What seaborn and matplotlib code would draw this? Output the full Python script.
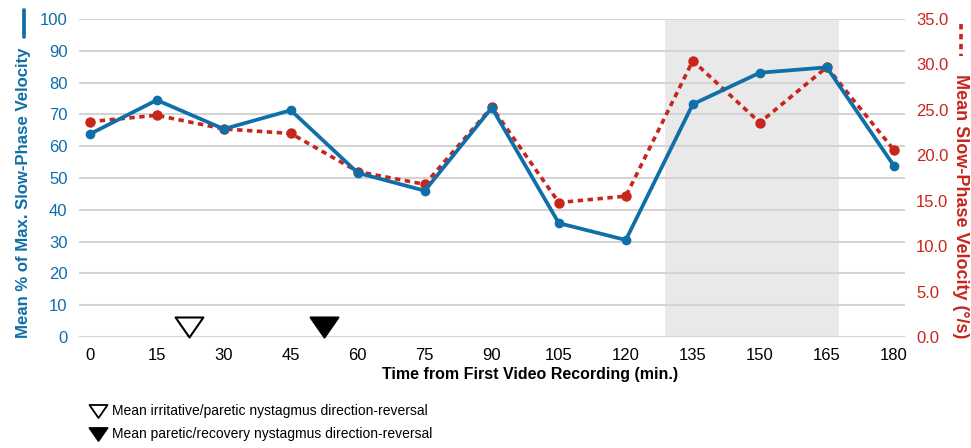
import matplotlib
matplotlib.use("Agg")
import matplotlib.pyplot as plt
from matplotlib.lines import Line2D
from matplotlib.path import Path
import seaborn as sns
import pandas as pd

# Recording times (minutes from first video recording)
times = [0, 15, 30, 45, 60, 75, 90, 105, 120, 135, 150, 165, 180]
# Mean % of maximum slow-phase velocity (left axis)
pct_max_spv = [63.8, 74.5, 65.4, 71.3, 51.6, 46.0, 72.1, 35.8, 30.5, 73.2, 83.1, 84.8, 53.9]
# Mean slow-phase velocity in deg/s (right axis)
mean_spv = [23.7, 24.4, 22.9, 22.4, 18.2, 16.8, 25.3, 14.8, 15.5, 30.4, 23.6, 29.7, 20.6]
# Mean direction-reversal times (minutes)
reversal_irritative_paretic = 22.2
reversal_paretic_recovery = 52.5
# Shaded interval (minutes)
shade_start, shade_end = 128.8, 167.7

left_ticks = list(range(0, 101, 10))
right_ticks = [0.0, 5.0, 10.0, 15.0, 20.0, 25.0, 30.0, 35.0]
x_ticks = list(range(0, 181, 15))

BLUE = "#0f6fa8"
RED = "#c8251b"
GRID = "#d4d4d4"
SHADE = "#e9e9e9"

sns.set_theme(style="white")
FONT = ["Liberation Sans", "DejaVu Sans"]
plt.rcParams["font.family"] = FONT

df = pd.DataFrame({"time": times, "pct": pct_max_spv, "spv": mean_spv})

fig = plt.figure(figsize=(9.71, 4.48), dpi=100)
ax = fig.add_axes([0.081, 0.2478, 0.851, 0.7098])
ax2 = ax.twinx()

# red series sits underneath the blue one
ax.set_zorder(ax2.get_zorder() + 1)
ax.patch.set_visible(False)

ax.set_xlim(-2.5, 182.5)
ax.set_ylim(0, 100)
ax2.set_ylim(0, 35)

# background: shaded interval and horizontal gridlines (left-axis scale)
ax2.axvspan(shade_start, shade_end, color=SHADE, lw=0, zorder=0)
for v in left_ticks:
    ax2.axhline(v * 35 / 100, color=GRID, lw=1.5, zorder=1)

DASH = (1.5, 1.25)
sns.lineplot(data=df, x="time", y="spv", ax=ax2, color=RED, lw=2.6,
             marker="o", markersize=7.5, markeredgewidth=0,
             dashes=False, zorder=3)
ax2.lines[-1].set_dashes(DASH)

sns.lineplot(data=df, x="time", y="pct", ax=ax, color=BLUE, lw=2.7,
             marker="o", markersize=7, markeredgewidth=0, zorder=3)

# direction-reversal markers (tip resting on the baseline)
tri = Path([(-1.0, 0.72), (1.0, 0.72), (0.0, -0.72), (-1.0, 0.72)],
           [Path.MOVETO, Path.LINETO, Path.LINETO, Path.CLOSEPOLY])
ax.plot([reversal_irritative_paretic], [3.2], marker=tri, markersize=20,
        mfc="white", mec="black", mew=1.5, ls="none", clip_on=False, zorder=5)
ax.plot([reversal_paretic_recovery], [3.2], marker=tri, markersize=20,
        mfc="black", mec="black", mew=1.5, ls="none", clip_on=False, zorder=5)

for a in (ax, ax2):
    for s in a.spines.values():
        s.set_visible(False)
    a.grid(False)
    a.set_xlabel("")
    a.set_ylabel("")

ax.set_xticks(x_ticks)
ax.set_xticklabels([str(t) for t in x_ticks], fontsize=12, color="black")
ax.set_yticks(left_ticks)
ax.set_yticklabels([str(t) for t in left_ticks], fontsize=12, color=BLUE)
ax2.set_yticks(right_ticks)
ax2.set_yticklabels([f"{t:.1f}" for t in right_ticks], fontsize=12, color=RED)
ax.tick_params(axis="both", length=0, pad=8)
ax2.tick_params(axis="y", length=0, pad=8)

fig.text(530 / 971, 1 - 375 / 448, "Time from First Video Recording (min.)",
         ha="center", va="center", fontsize=11.5, fontweight="bold",
         color="black")

# axis titles with line-style keys
fig.text(0.0247, 1 - 193 / 448, "Mean % of Max. Slow-Phase Velocity",
         rotation=90, ha="center", va="center", fontsize=12.1,
         fontweight="bold", color=BLUE)
fig.add_artist(Line2D([0.0247, 0.0247], [1 - 10 / 448, 1 - 37 / 448],
                      color=BLUE, lw=2.7, solid_capstyle="round"))
fig.text(0.9895, 1 - 206 / 448, "Mean Slow-Phase Velocity (°/s)",
         rotation=270, ha="center", va="center", fontsize=13,
         fontweight="bold", color=RED)
fig.add_artist(Line2D([0.9895, 0.9895], [1 - 24 / 448, 1 - 56 / 448],
                      color=RED, lw=2.6, dashes=DASH))

# key for the reversal markers
for i, (face, label) in enumerate([
        ("white", "Mean irritative/paretic nystagmus direction-reversal"),
        ("black", "Mean paretic/recovery nystagmus direction-reversal")]):
    yy = 1 - (411 + 23 * i) / 448
    fig.add_artist(Line2D([98 / 971], [yy], marker=tri, markersize=13,
                          mfc=face, mec="black", mew=1.3, ls="none"))
    fig.text(112 / 971, yy, label, ha="left", va="center", fontsize=10,
             color="black")

fig.savefig("out.png", dpi=100)
